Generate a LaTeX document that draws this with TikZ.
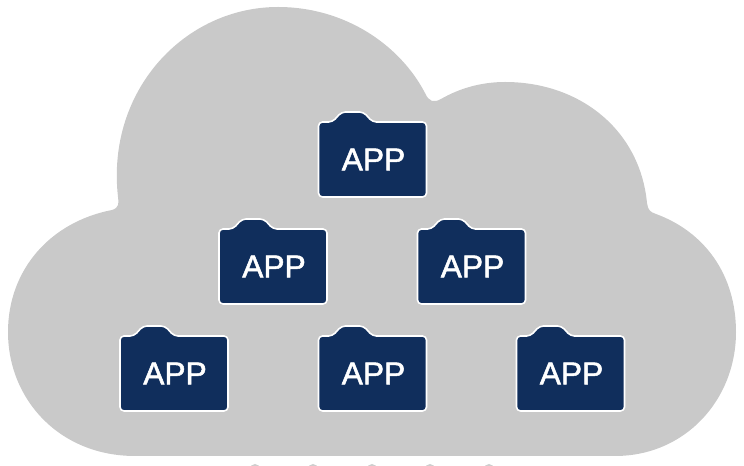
\documentclass[tikz,border=0pt]{standalone}
\usepackage{fontspec}
\setmainfont[FakeBold=1.6]{Liberation Sans}
\definecolor{cloudgray}{RGB}{201,201,201}
\definecolor{appblue}{RGB}{16,46,92}
\tikzset{
  cloudshape/.style={fill=cloudgray,draw=none},
  folderbody/.style={fill=appblue,draw=white,line width=1.2pt,line join=round,rounded corners=3pt},
  applabel/.style={text=white,font=\fontsize{23.8}{26}\selectfont,inner sep=0pt},
  dotmark/.style={fill=cloudgray!90!white,draw=none},
  appfolder/.pic={
    \draw[folderbody] (-54,37.5) -- (-54,-37.5) -- (-40,-37.5) -- (-31,-47.5)
      -- (-9,-47.5) -- (0,-37.5) -- (54,-37.5) -- (54,37.5) -- cycle;
    \node[applabel] (-label) at (1,0) {APP};
  }
}
\begin{document}
\begin{tikzpicture}[x=0.75pt,y=-0.75pt]
\useasboundingbox (0,0) rectangle (744,466);
% cloud outline
\fill[cloudshape] (135,456)
  .. controls (60,456) and (8,400) .. (8,332)
  .. controls (8,270) and (50,222) .. (112,210)
  .. controls (119,208) and (119,203) .. (118,197)
  .. controls (106,90) and (185,7) .. (278,7)
  .. controls (345,7) and (400,45) .. (425,93)
  .. controls (429,102) and (434,103) .. (441,99)
  .. controls (460,88) and (482,82) .. (505,82)
  .. controls (580,82) and (640,130) .. (647,203)
  .. controls (648,210) and (650,212) .. (656,214)
  .. controls (705,232) and (736,275) .. (736,332)
  .. controls (736,400) and (685,456) .. (615,456)
  -- cycle;
% folders
\path (372.5,159.5) pic (top) {appfolder};
\path (273,266.5) pic (midl) {appfolder};
\path (471.5,266.5) pic (midr) {appfolder};
\path (174,373.5) pic (botl) {appfolder};
\path (372.5,373.5) pic (botm) {appfolder};
\path (570.5,373.5) pic (botr) {appfolder};
% dots under the cloud
\foreach \x in {255,313,372,430,489}
  \fill[dotmark] (\x,469) circle (5);
\end{tikzpicture}
\end{document}
